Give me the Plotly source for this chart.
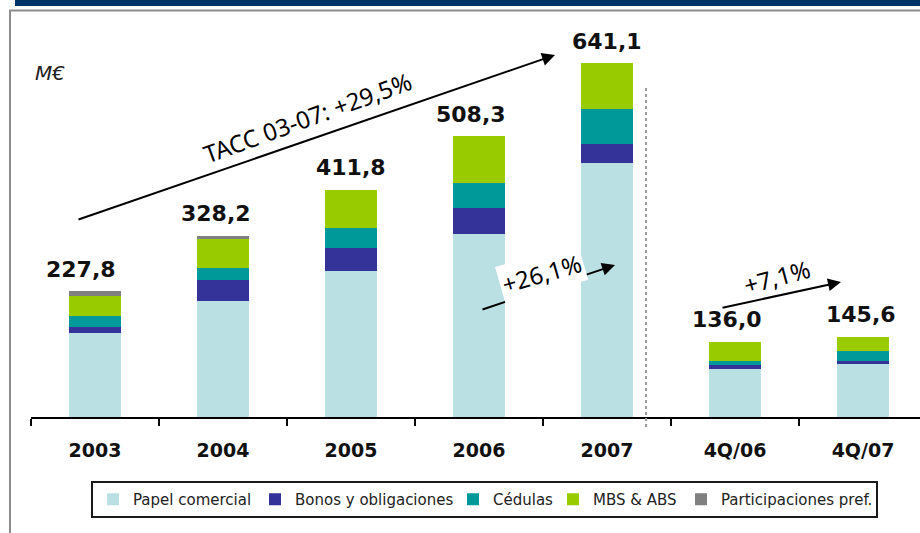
import plotly.graph_objects as go

# ---------------- data ----------------
categories = ["2003", "2004", "2005", "2006", "2007", "4Q/06", "4Q/07"]
papel_comercial = [152.2, 209.8, 264.3, 332.1, 460.2, 87.5, 97.5]
bonos_obligaciones = [10.5, 38.9, 42.7, 46.3, 33.6, 7.2, 3.6]
cedulas = [21.1, 21.2, 35.5, 46.3, 63.4, 7.2, 17.8]
mbs_abs = [35.1, 53.0, 69.3, 83.6, 83.9, 34.1, 26.7]
participaciones = [8.8, 5.3, 0.0, 0.0, 0.0, 0.0, 0.0]
totals = [227.8, 328.2, 411.8, 508.3, 641.1, 136.0, 145.6]
total_labels = ["227,8", "328,2", "411,8", "508,3", "641,1", "136,0", "145,6"]
series_names = ["Papel comercial", "Bonos y obligaciones", "Cédulas", "MBS & ABS", "Participaciones pref."]
growth_labels = ["TACC 03-07: +29,5%", "+26,1%", "+7,1%"]
unit_label = "M€"

# ---------------- geometry ----------------
W, H = 920, 533
L, R, T, B = 31, 0, 20, 116
PW = W - L - R
PH = H - T - B
BASE = T + PH  # pixel y of baseline
PPU = 0.552    # pixels per unit
YMAX = PH / PPU


def px(xp):
    return (xp - L) / PW


def py(yp):
    return (BASE - yp) / PH


colors = ["#BBE0E3", "#333399", "#009999", "#99CC00", "#808080"]
series = [papel_comercial, bonos_obligaciones, cedulas, mbs_abs, participaciones]
legend_widths = [117, 153, 55, 83, 150]

fig = go.Figure()
for name, vals, col, lw in zip(series_names, series, colors, legend_widths):
    fig.add_trace(go.Bar(
        x=categories, y=vals, name=name, marker=dict(color=col, line=dict(width=0)),
        legendwidth=lw, hoverinfo="skip",
    ))

# total labels (x given as category index)
label_dx = [-14.5, -7, 0, -8.5, 0, -8.5, -2]
for i, (t, lab) in enumerate(zip(totals, total_labels)):
    fig.add_annotation(
        x=i, y=t, xref="x", yref="y", text=lab, showarrow=False,
        xshift=label_dx[i], yshift=22, xanchor="center", yanchor="middle",
        font=dict(family="DejaVu Sans", size=22, color="#111111", weight="bold"),
    )

# growth arrows
arrow_common = dict(xref="paper", yref="paper", axref="pixel", ayref="pixel",
                    showarrow=True, arrowhead=2, arrowsize=1.3, arrowwidth=2,
                    arrowcolor="#000000", text="", standoff=0)
fig.add_annotation(x=px(555), y=py(55), ax=77 - 555, ay=220 - 55, **arrow_common)
fig.add_annotation(x=px(615), y=py(265), ax=481 - 615, ay=310 - 265, **arrow_common)
fig.add_annotation(x=px(841), y=py(282), ax=721 - 841, ay=308 - 282, **arrow_common)

txt_font = dict(family="Noto Sans", size=24, color="#000000")
txt_common = dict(xref="paper", yref="paper", showarrow=False,
                  xanchor="center", yanchor="middle", font=txt_font)
fig.add_annotation(x=px(307), y=py(118), text=growth_labels[0], textangle=-20, **txt_common)
fig.add_annotation(x=px(541), y=py(273), text=growth_labels[1], textangle=-16,
                   bgcolor="#FFFFFF", borderpad=2, **txt_common)
fig.add_annotation(x=px(777), y=py(276), text=growth_labels[2], textangle=-15, **txt_common)

# unit label
fig.add_annotation(x=px(33), y=py(73), xref="paper", yref="paper", text=unit_label,
                   showarrow=False, xanchor="left", yanchor="middle",
                   font=dict(family="DejaVu Sans", size=20, color="#222222", style="italic"))

# shapes: separator, frame, top band
fig.add_shape(type="line", xref="x", yref="paper", x0=4.305, x1=4.305,
              y0=py(427), y1=py(88), line=dict(color="#9A9A9A", width=2, dash="dot"))
fig.add_shape(type="rect", xref="paper", yref="paper", x0=px(15), x1=px(925),
              y0=py(6), y1=py(-2), line=dict(width=0), fillcolor="#003366", layer="above")
fig.add_shape(type="line", xref="paper", yref="paper", x0=px(9), x1=px(925),
              y0=py(10.5), y1=py(10.5), line=dict(color="#8C8C8C", width=2))
fig.add_shape(type="line", xref="paper", yref="paper", x0=px(10), x1=px(10),
              y0=py(10), y1=py(540), line=dict(color="#8C8C8C", width=2))

fig.update_layout(
    width=W, height=H,
    margin=dict(l=L, r=R, t=T, b=B, pad=0),
    barmode="stack", bargap=0.6,
    plot_bgcolor="#FFFFFF", paper_bgcolor="#FFFFFF",
    showlegend=True,
    legend=dict(
        orientation="h", x=px(91), y=py(481), xanchor="left", yanchor="top",
        bordercolor="#1A1A1A", borderwidth=2, bgcolor="#FFFFFF",
        font=dict(family="DejaVu Sans", size=15, color="#222222"),
        traceorder="normal", itemclick=False, itemdoubleclick=False,
    ),
    xaxis=dict(
        type="category", range=[-0.5, -0.5 + PW / 128.0],
        showgrid=False, zeroline=False,
        showline=True, linecolor="#000000", linewidth=2,
        ticks="outside", tickson="boundaries", ticklen=7, tickwidth=2, tickcolor="#000000",
        tickfont=dict(family="DejaVu Sans", size=19, color="#111111", weight="bold"),
        ticklabelstandoff=15,
    ),
    yaxis=dict(visible=False, range=[0, YMAX], showgrid=False, zeroline=False),
)

fig.write_html("out.html", config={"displayModeBar": False},
               post_script="document.body.style.margin='0';")
